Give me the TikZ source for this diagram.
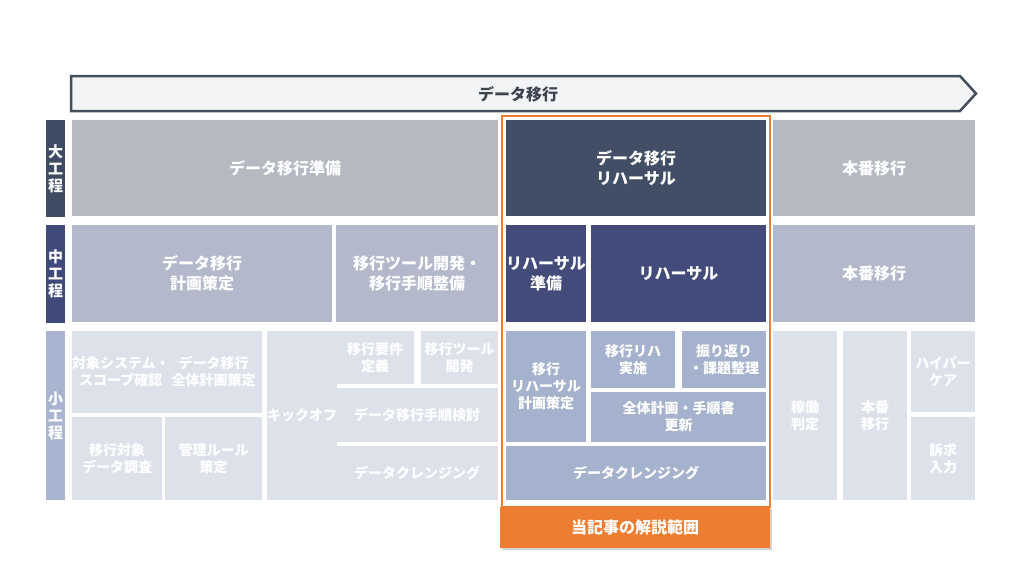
\documentclass[tikz,border=0pt]{standalone}
\usepackage{fontspec}
\setmainfont{Noto Sans CJK JP}
\usetikzlibrary{shadows}
\begin{document}
\begin{tikzpicture}[x=1pt, y=-1pt,
  size/.style 2 args={minimum width=#1pt, minimum height=#2pt},
  box/.style={anchor=north west, inner sep=0pt, outer sep=0pt, align=center, text=white, font=\bfseries\fontsize{14}{17}\selectfont},
  bigbox/.style={box, font=\bfseries\fontsize{16}{20}\selectfont},
  sidebar/.style={box, font=\bfseries\fontsize{15}{17}\selectfont}]
\useasboundingbox (0,0) rectangle (1024,576);
\definecolor{bannerfill}{HTML}{F3F4F6}
\definecolor{bannerline}{HTML}{454F5B}
\definecolor{bannertext}{HTML}{3C4450}
\definecolor{lvone}{HTML}{3E4B62}
\definecolor{lvtwo}{HTML}{3F4A7A}
\definecolor{lvthree}{HTML}{A8B4D0}
\definecolor{bigcol}{HTML}{B4B9C2}
\definecolor{midcol}{HTML}{B3B8CB}
\definecolor{smallcol}{HTML}{DDE1EA}
\definecolor{rehbig}{HTML}{414E65}
\definecolor{rehmid}{HTML}{424B7A}
\definecolor{rehsmall}{HTML}{A5B2CD}
\definecolor{accent}{HTML}{ED7D31}
% banner
\draw[bannerline, fill=bannerfill, line width=2.5pt, line join=miter] (71,76) -- (960,76) -- (976,93.5) -- (960,111) -- (71,111) -- cycle;
\node[text=bannertext, font=\bfseries\fontsize{16}{20}\selectfont] (migr) at (518,94) {データ移行};
% level labels
\node[sidebar, fill=lvone, size={19}{97}] (lvone) at (46,120) {大\\工\\程};
\node[sidebar, fill=lvtwo, size={19}{98}] (lvtwo) at (46,225) {中\\工\\程};
\node[sidebar, fill=lvthree, size={19}{169}] (lvthree) at (46,331) {小\\工\\程};
% large steps
\node[bigbox, fill=bigcol, size={426}{96}] (prep) at (72,120) {データ移行準備};
\node[bigbox, fill=rehbig, size={260}{96}] (rehone) at (506,120) {データ移行\\リハーサル};
\node[bigbox, fill=bigcol, size={202}{96}] (liveone) at (773,120) {本番移行};
% middle steps
\node[bigbox, fill=midcol, size={260}{97}] (plan) at (72,225) {データ移行\\計画策定};
\node[bigbox, fill=midcol, size={162}{97}] (tool) at (336,225) {移行ツール開発・\\移行手順整備};
\node[bigbox, fill=rehmid, size={80}{97}] (rprep) at (506,225) {リハーサル\\準備};
\node[bigbox, fill=rehmid, size={175}{97}] (rehtwo) at (591,225) {リハーサル};
\node[bigbox, fill=midcol, size={202}{97}] (livetwo) at (773,225) {本番移行};
% small steps
\node[box, fill=smallcol, size={90}{82}] (scope) at (72,331) {対象システム・\\スコープ確認};
\node[box, fill=smallcol, size={97}{82}] (allplan) at (165,331) {データ移行\\全体計画策定};
\node[box, fill=smallcol, size={90}{83}] (survey) at (72,417) {移行対象\\データ調査};
\node[box, fill=smallcol, size={97}{83}] (rule) at (165,417) {管理ルール\\策定};
\node[box, fill=smallcol, size={65}{169}] (kick) at (267,331) {キックオフ};
\node[box, fill=smallcol, size={78}{53}] (req) at (336,331) {移行要件\\定義};
\node[box, fill=smallcol, size={77}{53}] (tooldev) at (421,331) {移行ツール\\開発};
\node[box, fill=smallcol, size={162}{54}] (proc) at (336,388) {データ移行手順検討};
\node[box, fill=smallcol, size={162}{54}] (cleanone) at (336,446) {データクレンジング};
\node[box, fill=rehsmall, size={80}{111}] (rplan) at (506,331) {移行\\リハーサル\\計画策定};
\node[box, fill=rehsmall, size={84}{57}] (rexec) at (591,331) {移行リハ\\実施};
\node[box, fill=rehsmall, size={84}{57}] (review) at (682,331) {振り返り\\・課題整理};
\node[box, fill=rehsmall, size={175}{50}] (update) at (591,392) {全体計画・手順書\\更新};
\node[box, fill=rehsmall, size={260}{54}] (cleantwo) at (506,446) {データクレンジング};
\node[box, fill=smallcol, size={64}{169}] (judge) at (773,331) {稼働\\判定};
\node[box, fill=smallcol, size={64}{169}] (golive) at (843,331) {本番\\移行};
\node[box, fill=smallcol, size={64}{81}] (care) at (911,331) {ハイパー\\ケア};
\node[box, fill=smallcol, size={64}{83}] (input) at (911,417) {訴求\\入力};
% scope of the article
\draw[accent, line width=2.5pt] (502,116) rectangle (770,507);
\node[bigbox, fill=accent, size={270}{41}, drop shadow={shadow xshift=2pt, shadow yshift=-2pt, opacity=0.35}] (article) at (500,507) {当記事の解説範囲};
\end{tikzpicture}
\end{document}
